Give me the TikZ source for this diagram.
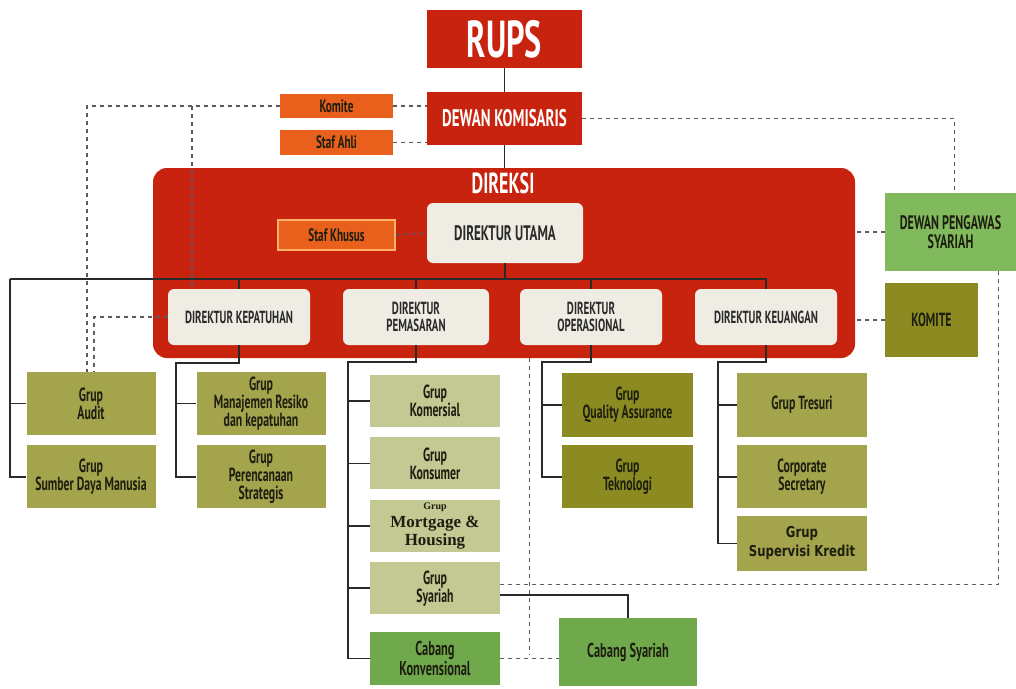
\documentclass[tikz,border=0pt]{standalone}
\usepackage{fontspec}
\setmainfont{PT Sans}[FakeStretch=0.62]
\newfontfamily\mortfont{Liberation Serif}
\newfontfamily\supfont{DejaVu Sans}[FakeStretch=0.78]
\usetikzlibrary{positioning,calc}
\definecolor{BankRed}{HTML}{C8230F}
\definecolor{BankOrange}{HTML}{E8601C}
\definecolor{BankCream}{HTML}{EFEDE3}
\definecolor{BankOlive}{HTML}{8B8B22}
\definecolor{BankMoss}{HTML}{A3A44C}
\definecolor{BankKhaki}{HTML}{C4C893}
\definecolor{BankLeaf}{HTML}{80BA5D}
\definecolor{BankGreen}{HTML}{70A94C}
\definecolor{BankInk}{HTML}{1E1E10}
\definecolor{BankLine}{HTML}{2A2A2A}
\definecolor{BankDash}{HTML}{5A5A5A}
\tikzset{unit/.style={inner sep=0pt,align=center,text=BankInk,
font=\fontsize{19}{18}\selectfont\bfseries},
redbox/.style={unit,fill=BankRed,text=white,minimum width=155pt},
orgbox/.style={unit,fill=BankOrange,minimum width=113pt,font=\fontsize{18}{18}\selectfont\bfseries},
dirbox/.style={unit,fill=BankCream,rounded corners=6pt,minimum width=142pt,minimum height=56pt,
text=BankLine,font=\fontsize{17.5}{17}\selectfont\bfseries},
grp/.style={unit,minimum width=129pt,minimum height=63pt},
olive/.style={grp,fill=BankOlive},
moss/.style={grp,fill=BankMoss},
khaki/.style={grp,fill=BankKhaki,minimum width=130pt,minimum height=52pt},
leaf/.style={unit,fill=BankLeaf,text=BankInk},
cabang/.style={unit,fill=BankGreen,font=\fontsize{20}{20}\selectfont\bfseries},
conn/.style={line width=1.6pt,draw=BankLine},
dashconn/.style={line width=1.4pt,draw=BankDash,dash pattern=on 4pt off 4pt}}
\begin{document}
\begin{tikzpicture}[x=1pt,y=-1pt]
\useasboundingbox (0,0) rectangle (1016,688);
% board level
\node[redbox,minimum height=58pt,font=\fontsize{52}{52}\selectfont\bfseries](rups) at (504.5,39){RUPS};
\node[redbox,minimum height=53pt,font=\fontsize{24}{24}\selectfont\bfseries](dekom) at (504.5,118.5){DEWAN KOMISARIS};
\node[orgbox,minimum height=24pt](komite) at (336.5,106){Komite};
\node[orgbox,minimum height=25pt](stafahli) at (336.5,142.5){Staf Ahli};
% direksi panel
\node[fill=BankRed,rounded corners=14pt,minimum width=702pt,minimum height=190pt,inner sep=0pt](direksi) at (504,263){};
\node[text=white,font=\fontsize{29}{29}\selectfont\bfseries](direksilbl) at (503,183){DIREKSI};
\node[dirbox,minimum width=156pt,minimum height=60pt,font=\fontsize{21}{21}\selectfont\bfseries](dirut) at (505,233){DIREKTUR UTAMA};
\node[orgbox,minimum width=117pt,minimum height=30pt,draw=orange!60!white,line width=1.2pt](stafkhusus) at (336.5,235){Staf Khusus};
\node[dirbox](dkep) at (239,317){DIREKTUR KEPATUHAN};
\node[dirbox,minimum width=146pt](dpem) at (416,317){DIREKTUR\\PEMASARAN};
\node[dirbox](dops) at (591,317){DIREKTUR\\OPERASIONAL};
\node[dirbox](dkeu) at (766,317){DIREKTUR KEUANGAN};
% syariah side
\node[leaf,minimum width=131pt,minimum height=78pt,font=\fontsize{19.5}{19}\selectfont\bfseries](dps) at (950.5,232){DEWAN PENGAWAS\\SYARIAH};
\node[olive,minimum width=93pt,minimum height=74pt](komiter) at (931.5,320){KOMITE};
% groups
\node[moss](gaudit) at (91,403.5){Grup\\Audit};
\node[moss,below=10pt of gaudit](gsdm){Grup\\Sumber Daya Manusia};
\node[moss](gmr) at (261,403.5){Grup\\Manajemen Resiko\\dan kepatuhan};
\node[moss,below=10pt of gmr](gpren){Grup\\Perencanaan\\Strategis};
\node[khaki](gkom) at (435,401){Grup\\Komersial};
\node[khaki,below=10pt of gkom](gkons){Grup\\Konsumer};
\node[khaki,below=10pt of gkons,font=\mortfont\fontsize{17}{18}\selectfont\bfseries](gmort){{\fontsize{10}{10}\selectfont Grup}\\Mortgage \&\\Housing};
\node[khaki,below=10pt of gmort](gsyar){Grup\\Syariah};
\node[cabang,minimum width=130pt,minimum height=53pt](ckonv) at (435,658.5){Cabang\\Konvensional};
\node[olive,minimum width=131pt,minimum height=64pt](gqa) at (627.5,405){Grup\\Quality Assurance};
\node[olive,minimum width=131pt,below=8pt of gqa](gtek){Grup\\Teknologi};
\node[moss,minimum width=130pt,minimum height=64pt](gtres) at (802,405){Grup Tresuri};
\node[moss,minimum width=130pt,below=8pt of gtres](gcorp){Corporate\\Secretary};
\node[moss,minimum width=130pt,minimum height=55pt,below=7pt of gcorp,font=\supfont\fontsize{15}{19}\selectfont\bfseries](gsup){Grup\\Supervisi Kredit};
\node[cabang,minimum width=138pt,minimum height=68pt](csyar) at (628,652){Cabang Syariah};
% solid lines
\draw[conn](rups)--(dekom);
\draw[conn](dekom.south)--(dekom.south|-direksi.north);
\coordinate(busl) at (10,279);
\coordinate(busr) at (dkeu.north|-busl);
\draw[conn](dirut.south)--(dirut.south|-busl);
\draw[conn](busl)--(busr)--(dkeu.north);
\foreach \d in {dkep,dpem,dops}\draw[conn](\d.north|-busl)--(\d.north);
\draw[conn](busl)|-(gsdm.west);\draw[conn](gaudit.west-|busl)--(gaudit.west);
\coordinate(kepx) at (176,363);
\draw[conn](dkep.south)|-(kepx)|-(gpren.west);\draw[conn](gmr.west-|kepx)--(gmr.west);
\coordinate(pemx) at (348,362);
\draw[conn](dpem.south)|-(pemx)|-(ckonv.west);
\foreach \g in {gkom,gkons,gmort,gsyar}\draw[conn](\g.west-|pemx)--(\g.west);
\coordinate(opsx) at (542,362);
\draw[conn](dops.south)|-(opsx)|-(gtek.west);\draw[conn](gqa.west-|opsx)--(gqa.west);
\coordinate(keux) at (718,362);
\draw[conn](dkeu.south)|-(keux)|-(gsup.west);
\foreach \g in {gtres,gcorp}\draw[conn](\g.west-|keux)--(\g.west);
\draw[conn]([yshift=-7pt]gsyar.east)-|(csyar.north);
% dashed lines
\draw[dashconn](komite.east)--(dekom.west|-komite.east);
\draw[dashconn](stafahli.east)--(dekom.west|-stafahli.east);
\draw[dashconn](komite.west)-|([xshift=-4pt]gaudit.north);
\draw[dashconn]([xshift=-47pt]dkep.north|-komite.west)--([xshift=-47pt]dkep.north);
\draw[dashconn](dkep.west)-|([xshift=3pt]gaudit.north);
\draw[dashconn](stafkhusus.east)--(dirut.west);
\draw[dashconn](dekom.east)-|([xshift=4pt]dps.north);
\draw[dashconn](dps.west)--(direksi.east|-dps.west);
\draw[dashconn](komiter.west)--(direksi.east|-komiter.west);
\draw[dashconn]([yshift=4pt]gsyar.east)-|([xshift=48pt]dps.south);
\draw[dashconn](ckonv.east)--(csyar.west|-ckonv.east);
\coordinate(cabx) at ($(ckonv.east)!0.5!(csyar.west)$);
\draw[dashconn](cabx|-direksi.south)--(cabx);
\end{tikzpicture}
\end{document}
